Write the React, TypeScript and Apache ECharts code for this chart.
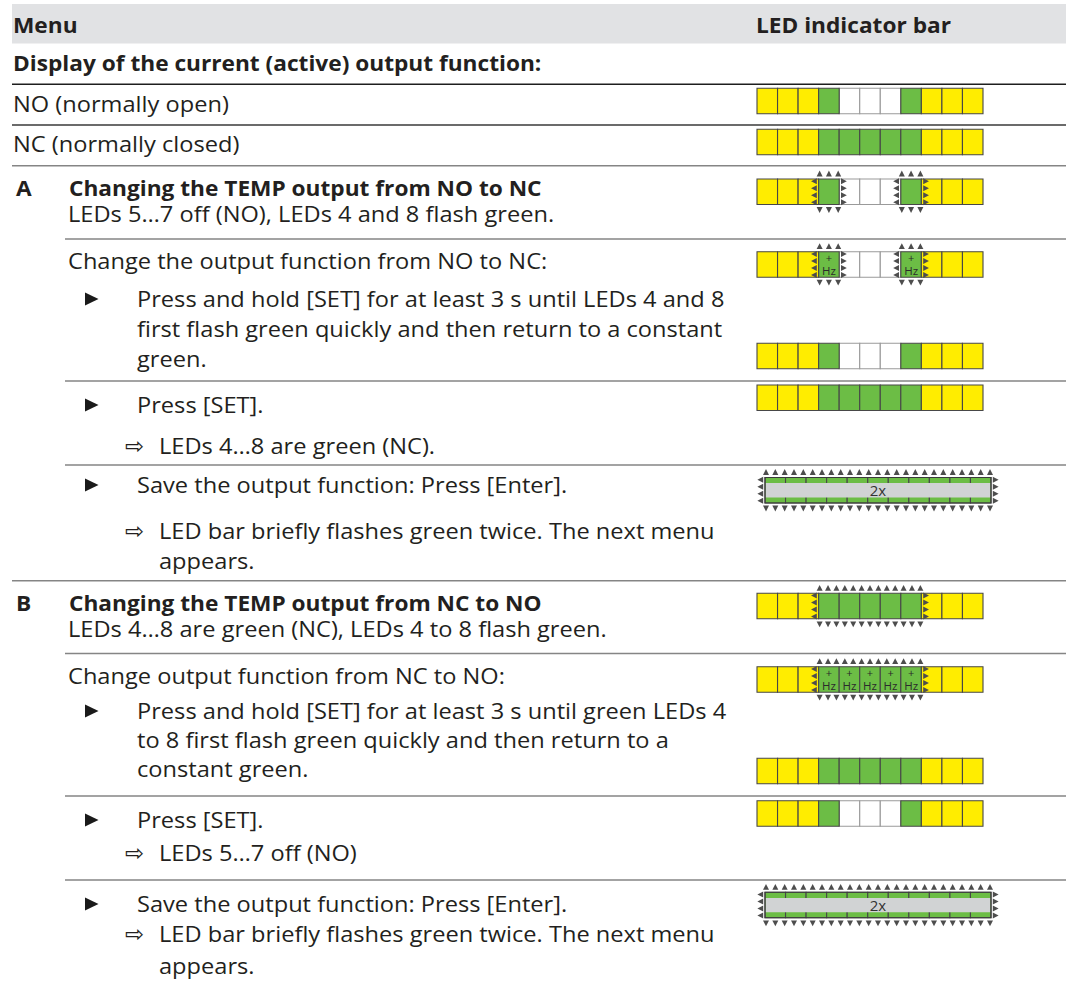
import { useEffect, useRef } from "react";
import * as echarts from "echarts";

// ---------- data ----------
const LED_COUNT = 11;
// LED states: 0 = yellow, 1 = green, 2 = off
const STATE_NO = [0, 0, 0, 1, 2, 2, 2, 1, 0, 0, 0];
const STATE_NC = [0, 0, 0, 1, 1, 1, 1, 1, 0, 0, 0];
const STATE_ALL = [1, 1, 1, 1, 1, 1, 1, 1, 1, 1, 1];

const BAR_STATES = [
  STATE_NO, STATE_NC,
  STATE_NO, STATE_NO, STATE_NO, STATE_NC, STATE_ALL,
  STATE_NC, STATE_NC, STATE_NC, STATE_NO, STATE_ALL,
];
// flashing LED ranges [from, to), third value 1 = fast ("+ Hz")
const BAR_FLASH = [
  [], [],
  [[3, 4, 0], [7, 8, 0]], [[3, 4, 1], [7, 8, 1]], [], [], [[0, 11, 0]],
  [[3, 8, 0]], [[3, 8, 1]], [], [], [[0, 11, 0]],
];
// whole bar flashes twice
const BAR_TWICE = [
  [], [],
  [], [], [], [], [[0, 11]],
  [], [], [], [], [[0, 11]],
];

const TEXTS = [
  "Menu", "LED indicator bar",
  "Display of the current (active) output function:",
  "NO (normally open)", "NC (normally closed)",
  "A", "Changing the TEMP output from NO to NC",
  "LEDs 5…7 off (NO), LEDs 4 and 8 flash green.",
  "Change the output function from NO to NC:",
  "Press and hold [SET] for at least 3 s until LEDs 4 and 8",
  "first flash green quickly and then return to a constant",
  "green.",
  "Press [SET].",
  "LEDs 4…8 are green (NC).",
  "Save the output function: Press [Enter].",
  "LED bar briefly flashes green twice. The next menu",
  "appears.",
  "B", "Changing the TEMP output from NC to NO",
  "LEDs 4…8 are green (NC), LEDs 4 to 8 flash green.",
  "Change output function from NC to NO:",
  "Press and hold [SET] for at least 3 s until green LEDs 4",
  "to 8 first flash green quickly and then return to a",
  "constant green.",
  "Press [SET].",
  "LEDs 5…7 off (NO)",
  "Save the output function: Press [Enter].",
  "LED bar briefly flashes green twice. The next menu",
  "appears.",
];
const RESULT_ARROW = "⇨";

// ---------- layout ----------
const TEXT_POS: [number, number, number][] = [
  [13, 25, 1], [756, 25, 1], [13, 63, 1], [13, 104, 0], [13, 144, 0],
  [16, 188, 1], [69, 188, 1], [68, 214, 0], [68, 261, 0],
  [137, 299, 0], [137, 329, 0], [137, 359, 0],
  [137, 405, 0], [159, 446, 0], [137, 485, 0], [159, 531, 0], [159, 561, 0],
  [16, 603, 1], [69, 603, 1], [68, 629, 0], [68, 676, 0],
  [137, 711, 0], [137, 740, 0], [137, 769, 0],
  [137, 820, 0], [159, 853, 0], [137, 904, 0], [159, 934, 0], [159, 966, 0],
];
const BULLET_Y = [299, 405, 485, 711, 820, 904];
const RESULT_Y = [446, 531, 853, 934];
const RULES: [number, number, string][] = [
  [84.3, 12, "#1e1e1e"], [125, 12, "#3a3a3a"], [165.7, 12, "#858585"],
  [239, 65, "#858585"], [381, 65, "#858585"], [465, 65, "#858585"],
  [580.7, 12, "#858585"], [653.5, 65, "#858585"], [796, 65, "#858585"],
  [880, 65, "#858585"],
];
const BAR_TOP = [88.3, 129.3, 179, 251.7, 343.3, 385, 477.5, 593.3, 666.7, 758.3, 800.7, 892.3];
const BAR_LEFT = [757, 757, 757, 757, 757, 757, 765, 757, 757, 757, 757, 765];
const BAR_W = 226;
const BAR_H = 25.5;

const FONT = '"Open Sans", "Noto Sans", sans-serif';
const TXT = "#231f20";
const FONT_SIZE = 21;
const SCALE_NORMAL = 1.125;
const SCALE_BOLD = 1.08;
const LED_FILL = ["#ffed00", "#6cbd45", "#ffffff"];
const ARROW = "#4d4d4d";

function renderCell(params: any, api: any) {
  const i = api.value(0);
  const s = api.value(1);
  const p0 = api.coord([i, 1]);
  const p1 = api.coord([i + 1, 0]);
  return {
    type: "rect",
    shape: { x: p0[0], y: p0[1], width: p1[0] - p0[0], height: p1[1] - p0[1] },
    style: { fill: LED_FILL[s], stroke: s === 2 ? "#9a9a9a" : "#474747", lineWidth: 1.1 },
  };
}

function renderTwice(params: any, api: any) {
  const p0 = api.coord([api.value(0), 1]);
  const p1 = api.coord([api.value(1), 0]);
  const w = p1[0] - p0[0];
  const h = p1[1] - p0[1];
  const stripe = h * 0.22;
  return {
    type: "group",
    children: [
      {
        type: "rect",
        shape: { x: p0[0] + 0.7, y: p0[1] + stripe, width: w - 1.4, height: h - 2 * stripe },
        style: { fill: "#d1d3d4" },
      },
      {
        type: "rect",
        shape: { x: p0[0], y: p0[1], width: w, height: h },
        style: { fill: "none", stroke: "#3a3a3a", lineWidth: 1.1 },
      },
      {
        type: "text",
        x: p0[0] + w / 2,
        y: p0[1] + h / 2,
        style: {
          text: "2x", fill: "#333", fontSize: 15, lineHeight: 15, fontFamily: FONT,
          align: "center", verticalAlign: "middle", textAlign: "center", textVerticalAlign: "middle",
        },
      },
    ],
  };
}

function tri(points: number[][]) {
  return { type: "polygon", shape: { points }, style: { fill: ARROW } };
}

function renderFlash(params: any, api: any) {
  const a = api.value(0);
  const b = api.value(1);
  const hz = api.value(2);
  const p0 = api.coord([a, 1]);
  const p1 = api.coord([b, 0]);
  const left = p0[0], top = p0[1], right = p1[0], bottom = p1[1];
  const w = right - left;
  const h = bottom - top;
  const pitch = b - a >= LED_COUNT ? 9.3 : 8.5;
  const n = Math.round((w - 2) / pitch) + 1;
  const children: any[] = [];
  for (let k = 0; k < n; k++) {
    const cx = left + 1 + (k * (w - 2)) / (n - 1);
    children.push(tri([[cx - 3, top - 2.6], [cx + 3, top - 2.6], [cx, top - 8.4]]));
    children.push(tri([[cx - 3, bottom + 2.6], [cx + 3, bottom + 2.6], [cx, bottom + 8.4]]));
  }
  for (let k = 0; k < 4; k++) {
    const cy = top + 2.2 + (k * (h - 4.4)) / 3;
    children.push(tri([[left - 1.8, cy - 3], [left - 1.8, cy + 3], [left - 7.6, cy]]));
    children.push(tri([[right + 1.8, cy - 3], [right + 1.8, cy + 3], [right + 7.6, cy]]));
  }
  if (hz) {
    for (let j = a; j < b; j++) {
      const cx = api.coord([j + 0.5, 0])[0];
      children.push({
        type: "text", x: cx, y: top + 5.5,
        style: { text: "+", fill: "#2b2b2b", fontSize: 11, lineHeight: 10, fontFamily: FONT, align: "center", verticalAlign: "middle", textAlign: "center", textVerticalAlign: "middle" },
      });
      children.push({
        type: "text", x: cx, y: top + 18.5,
        style: { text: "Hz", fill: "#2b2b2b", fontSize: 11.5, lineHeight: 11, fontFamily: FONT, align: "center", verticalAlign: "middle", textAlign: "center", textVerticalAlign: "middle" },
      });
    }
  }
  return { type: "group", children };
}

function buildOption() {
  const grid: any[] = [];
  const xAxis: any[] = [];
  const yAxis: any[] = [];
  const series: any[] = [];
  BAR_STATES.forEach((state, i) => {
    grid.push({ left: BAR_LEFT[i], top: BAR_TOP[i], width: BAR_W, height: BAR_H, show: false });
    xAxis.push({ type: "value", gridIndex: i, min: 0, max: LED_COUNT, show: false });
    yAxis.push({ type: "value", gridIndex: i, min: 0, max: 1, show: false });
    const cells = state.map((s, j) => [j, s]);
    cells.sort((p, q) => (q[1] === 2 ? 1 : 0) - (p[1] === 2 ? 1 : 0));
    series.push({ type: "custom", xAxisIndex: i, yAxisIndex: i, renderItem: renderCell, data: cells, silent: true });
    if (BAR_TWICE[i].length)
      series.push({ type: "custom", xAxisIndex: i, yAxisIndex: i, renderItem: renderTwice, data: BAR_TWICE[i], silent: true });
    if (BAR_FLASH[i].length)
      series.push({ type: "custom", xAxisIndex: i, yAxisIndex: i, renderItem: renderFlash, data: BAR_FLASH[i], silent: true });
  });

  const graphic: any[] = [];
  graphic.push({ type: "rect", x: 12, y: 4, shape: { x: 0, y: 0, width: 1054, height: 39.5 }, style: { fill: "#e1e2e4" }, silent: true });
  RULES.forEach(([y, x0, c]) => {
    graphic.push({ type: "line", shape: { x1: x0, y1: y, x2: 1066, y2: y }, style: { stroke: c, lineWidth: 1.4 }, silent: true });
  });
  TEXTS.forEach((t, k) => {
    const [x, y, b] = TEXT_POS[k];
    graphic.push({
      type: "text", x, y, scaleX: b ? SCALE_BOLD : SCALE_NORMAL, silent: true,
      style: {
        text: t, fill: TXT, fontSize: FONT_SIZE, fontFamily: FONT, fontWeight: b ? "bold" : "normal",
        verticalAlign: "middle", textVerticalAlign: "middle",
      },
    });
  });
  BULLET_Y.forEach((y) => {
    graphic.push({ type: "polygon", shape: { points: [[85, y - 6.5], [85, y + 6.5], [98.5, y]] }, style: { fill: "#1a1a1a" }, silent: true });
  });
  RESULT_Y.forEach((y) => {
    graphic.push({
      type: "text", x: 125, y, silent: true,
      style: { text: RESULT_ARROW, fill: TXT, fontSize: 23, fontFamily: '"DejaVu Sans", sans-serif', verticalAlign: "middle", textVerticalAlign: "middle" },
    });
  });

  return { animation: false, backgroundColor: "#ffffff", grid, xAxis, yAxis, series, graphic };
}

export default function App() {
  const ref = useRef<HTMLDivElement>(null);
  useEffect(() => {
    if (!ref.current) return;
    const chart = echarts.init(ref.current, undefined, { renderer: "svg" });
    chart.setOption(buildOption() as any);
    return () => chart.dispose();
  }, []);
  return (
    <div
      ref={ref}
      style={{ position: "absolute", left: 0, top: 0, width: 1066, height: 989, background: "#fff" }}
    />
  );
}
